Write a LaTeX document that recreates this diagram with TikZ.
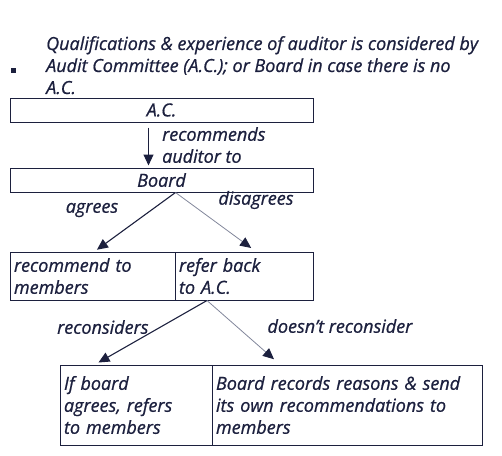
\documentclass[tikz,border=0pt]{standalone}
\usepackage{fontspec}
\setmainfont{Open Sans}[ItalicFeatures={FakeBold=0.8}]
\usetikzlibrary{arrows.meta,positioning}
\definecolor{ink}{RGB}{28,32,62}
\definecolor{faint}{RGB}{130,135,155}
\begin{document}
\begin{tikzpicture}[x=1pt,y=-1pt,
    every node/.style={font=\fontsize{18}{22}\selectfont\itshape, text=ink},
    box/.style={draw=ink, line width=1pt, inner sep=1pt, minimum height=24},
    cell/.style={box, align=left, inner sep=4pt, minimum height=48},
    yes/.style={draw=ink, line width=1.1pt, -{Triangle[length=11pt,width=10pt]}},
    nope/.style={draw=faint, line width=0.8pt, -{Triangle[length=11pt,width=10pt,color=ink,fill=ink]}}]
  \useasboundingbox (0,0) rectangle (502,455);
  % note above the chart
  \fill[ink] (11,68) rectangle (16,73);
  \node[anchor=north west, align=left, inner sep=0pt] (note) at (46,36)
    {Qualifications \& experience of auditor is considered by\\
     Audit Committee (A.C.); or Board in case there is no\\A.C.};
  % boxes
  \node[box, minimum width=303] (ac) at (161.5,110) {A.C.};
  \node[box, minimum width=303] (board) at (161.5,180) {Board};
  \node[cell, text width=157] (recommend) at (92.5,276) {recommend to\\members};
  \node[cell, text width=130] (referback) at (244,276) {refer back\\to A.C.};
  \node[cell, text width=144, minimum height=80] (ifboard) at (136,405)
    {If board\\agrees, refers\\to members};
  \node[cell, text width=262, minimum height=80] (records) at (347,405)
    {Board records reasons \& send\\its own recommendations to\\members};
  % connectors
  \draw[yes, shorten <=5pt, shorten >=2pt] ([xshift=-13]ac.south) -- ([xshift=-13]board.north);
  \node[anchor=west, align=left, inner sep=0pt] (recommends) at (162,145) {recommends\\auditor to};
  \draw[yes, shorten >=3pt] ([xshift=14]board.south) -- ([xshift=2]recommend.north);
  \draw[nope, shorten >=6pt] ([xshift=14]board.south) -- ([xshift=12]referback.north);
  \node (agrees) at (92,210) {agrees};
  \node (disagrees) at (256,200) {disagrees};
  \draw[yes, shorten >=4pt] ([xshift=-37]referback.south) -- ([xshift=-41]ifboard.north);
  \draw[nope, shorten >=8pt] ([xshift=-37]referback.south) -- ([xshift=-67]records.north);
  \node[anchor=east] (reconsiders) at (152,327) {reconsiders};
  \node[anchor=west] (doesnt) at (264,326) {doesn't reconsider};
\end{tikzpicture}
\end{document}
